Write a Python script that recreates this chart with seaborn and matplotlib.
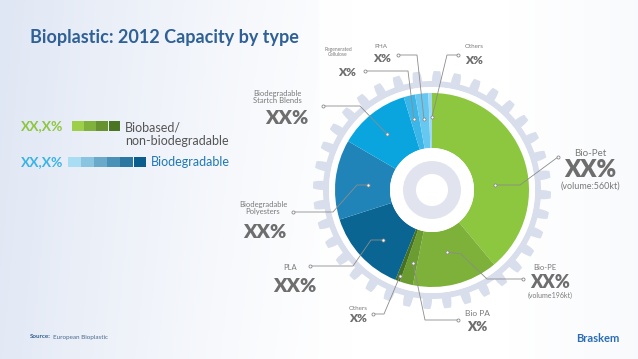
import numpy as np
import matplotlib.pyplot as plt
import seaborn as sns
from matplotlib.patches import Circle, PathPatch, Rectangle
from matplotlib.path import Path

# ---- data ----
types = ["Bio-Pet", "Bio-PE", "Bio PA", "Others", "PLA",
         "Biodegradable\nPolyesters", "Biodegradable\nStartch Blends",
         "Regenerated\nCellulose", "PHA", "Others"]
shares = [38.9, 14.2, 2.2, 0.8, 13.9, 13.3, 11.9, 1.9, 2.2, 0.6]
value_labels = ["XX%", "XX%", "X%", "X%", "XX%", "XX%", "XX%", "X%", "X%", "X%"]
volumes = ["(volume:560kt)", "(volume196kt)", "", "", "", "", "", "", "", ""]
slice_colors = ["#8dc63f", "#7db139", "#6b9c31", "#46711f", "#0a6593",
                "#2184b8", "#0aa5df", "#3cb6e8", "#66c8f0", "#9dd9f5"]
legend_labels = ["Biobased/\nnon-biodegradable", "Biodegradable"]
legend_values = ["XX,X%", "XX,X%"]

sns.set_theme(style="white")
plt.rcParams["font.family"] = ["Lato", "DejaVu Sans"]

fig = plt.figure(figsize=(6.38, 3.59), dpi=100)
ax = fig.add_axes([0, 0, 1, 1])

# background gradient
W, H = 638, 359
xx = np.linspace(0, 1, 320)
yy = np.linspace(0, 1, 180)
X, Y = np.meshgrid(xx, yy)
tint = np.clip(1 - X / 0.55, 0, 1) ** 1.3 * 0.85 + np.clip((X - 0.8) / 0.2, 0, 1) * 0.2
tint = np.clip(tint + 0.1 * (1 - Y) * (X < 0.5), 0, 1)
base = np.array([1.0, 1.0, 1.0])
blue = np.array([0.87, 0.90, 0.955])
img = base[None, None, :] * (1 - tint[..., None]) + blue[None, None, :] * tint[..., None]
ax.imshow(img, extent=(0, W, H, 0), zorder=0, aspect="auto")

cx, cy = 432, 190

# gear
n_teeth = 36
t = np.linspace(0, 2 * np.pi, 4000)
phase = (t * n_teeth / (2 * np.pi)) % 1.0
prof = np.clip(np.minimum(phase / 0.08, (0.48 - phase) / 0.08), 0, 1)
r = 109 + 10 * np.sqrt(prof)
outer = np.column_stack([cx + r * np.sin(t), cy - r * np.cos(t)])
ti = t[::-1]
inner = np.column_stack([cx + 103 * np.sin(ti), cy - 103 * np.cos(ti)])
verts = np.vstack([outer, outer[:1], inner, inner[:1]])
codes = ([Path.MOVETO] + [Path.LINETO] * (len(outer) - 1) + [Path.CLOSEPOLY]
         + [Path.MOVETO] + [Path.LINETO] * (len(inner) - 1) + [Path.CLOSEPOLY])
ax.add_patch(PathPatch(Path(verts, codes), facecolor="#d9deec", edgecolor="none", zorder=1))
ax.add_patch(Circle((cx, cy), 103, facecolor="white", edgecolor="none", zorder=1))

# donut (y axis inverted -> counterclockwise in data = clockwise on screen)
ax.pie(shares, colors=slice_colors, startangle=-90, counterclock=True,
       radius=97, center=(cx, cy), frame=True,
       wedgeprops=dict(width=55, edgecolor="none", zorder=2))
ax.add_patch(Circle((cx, cy), 42, facecolor="white", edgecolor="none", zorder=3))
ax.add_patch(Circle((cx, cy), 29, facecolor="#e1e4ef", edgecolor="none", zorder=3))
ax.add_patch(Circle((cx, cy), 16, facecolor="white", edgecolor="none", zorder=3))

# leader lines and labels (layout in pixels)
leaders = [
    [(558, 157), (520, 185), (495, 185)],
    [(523, 279), (487, 279), (461, 254), (447, 252)],
    [(458, 320), (425, 320), (413, 263)],
    [(373, 314), (384, 314), (400, 276)],
    [(310, 266), (353, 266), (371, 240), (383, 240)],
    [(293, 212), (333, 212), (357, 185), (368, 185)],
    [(323, 106), (360, 106), (387, 134)],
    [(365, 71), (408, 71), (414, 119)],
    [(398, 55), (417, 55), (424, 119)],
    [(458, 55), (447, 55), (432, 117)],
]
name_pos = [(590, 153), (545, 267), (477, 313), (358, 308), (290, 267),
            (263, 208), (277, 97), (338, 52), (381, 47), (474, 47)]
name_size = [7, 5.5, 6, 4.5, 5.5, 5.5, 5.5, 3.5, 4.5, 4.5]
val_pos = [(590, 170), (550, 282), (477, 327), (358, 319), (295, 286),
           (265, 232), (287, 118), (347, 73), (382, 59), (474, 60)]
val_size = [17, 13, 9.5, 8.5, 14, 14, 14, 8.5, 8.5, 8.5]

for i in range(len(types)):
    pts = np.array(leaders[i])
    ax.plot(pts[:, 0], pts[:, 1], color="#8c8c8c", lw=0.6, zorder=4)
    ax.plot(pts[[0, -1], 0], pts[[0, -1], 1], ls="none", marker="o", ms=2.2,
            mfc="white", mec="#8c8c8c", mew=0.6, zorder=5)
    ax.text(*name_pos[i], types[i], fontsize=name_size[i], color="#7a7a7a",
            ha="center", va="center", linespacing=0.95, zorder=5)
    ax.text(*val_pos[i], value_labels[i], fontsize=val_size[i], color="#6e6e6e",
            ha="center", va="center", fontweight="heavy", zorder=5)
    if volumes[i]:
        vy = val_pos[i][1] + (16 if i == 0 else 13)
        ax.text(val_pos[i][0], vy, volumes[i], fontsize=name_size[i] - 0.5,
                color="#7a7a7a", ha="center", va="center", zorder=5)

# title
ax.text(30, 37, "Bioplastic: 2012 Capacity by type", fontsize=13, fontweight="bold",
        color="#2f6096", ha="left", va="center", zorder=5)

# legend
greens = sns.blend_palette(["#9dcf4b", "#4a7522"], 4)
blues = sns.blend_palette(["#a9ddf4", "#0a5e8e"], 6)
ax.text(21, 126, legend_values[0], fontsize=10, fontweight="bold", color="#8dc63f",
        ha="left", va="center")
for k, c in enumerate(greens):
    ax.add_patch(Rectangle((72 + k * 12.2, 121), 11.5, 10, facecolor=c, edgecolor="none"))
ax.text(125, 134, legend_labels[0], fontsize=9, color="#555555", ha="left",
        va="center", linespacing=1.15)
ax.text(21, 162, legend_values[1], fontsize=10, fontweight="bold", color="#3ab4e6",
        ha="left", va="center")
for k, c in enumerate(blues):
    ax.add_patch(Rectangle((68 + k * 13.1, 157), 12.5, 10, facecolor=c, edgecolor="none"))
ax.text(151, 162, legend_labels[1], fontsize=9, color="#1f78b4", ha="left", va="center")

# source and logo
ax.text(30, 337, "Source:", fontsize=4.5, fontweight="bold", color="#2f5d8c",
        ha="left", va="center")
ax.text(53, 337, "European Bioplastic", fontsize=4.5, color="#4a6a90",
        ha="left", va="center")
ax.text(598, 338, "Braskem", fontsize=8, fontweight="bold", color="#2a6db5",
        ha="center", va="center")

ax.set_xlim(0, W)
ax.set_ylim(H, 0)
ax.set_aspect("auto")
ax.axis("off")
fig.savefig("out.png", dpi=100)
